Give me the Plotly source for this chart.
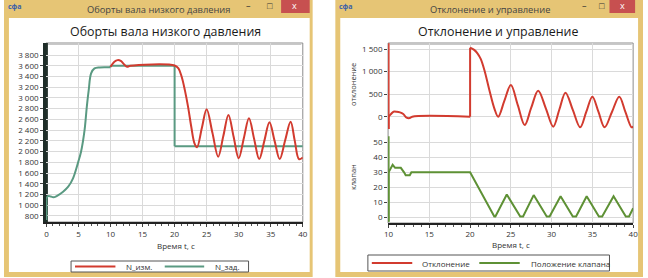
import plotly.graph_objects as go

W, H = 648, 278

# ---------------- data: left chart (Оборты вала низкого давления) ----------------
t_zad = [0, 0, 0.15, 0.5, 1.1, 1.6, 2.6, 3.4, 4.15, 4.9, 5.4, 5.95, 6.3, 6.6, 6.97, 7.5, 8.3, 10.0,
         10.0, 20.0, 20.0, 40.0]
n_zad = [725, 1100, 1165, 1170, 1148, 1172, 1253, 1346, 1502, 1781, 1997, 2401, 2835, 3146, 3457, 3550, 3569, 3570,
         3600, 3600, 2100, 2100]

t_izm = [10.0, 10.6, 11.1, 11.6, 12.1, 12.6, 13.1, 20.0, 20.6, 21.1, 21.6, 22.1, 22.6, 23.1, 23.5,
         24.25, 25.0, 25.9, 26.8, 27.6, 28.4, 29.2, 30.0, 30.8, 31.6, 32.4, 33.2, 34.0, 34.8, 35.6, 36.4,
         37.25, 38.1, 38.75, 39.4, 40.0]
n_izm = [3580, 3673, 3705, 3690, 3630, 3580, 3600, 3605, 3550, 3394, 3146, 2835, 2463, 2154, 2080,
         2440, 2790, 2350, 1905, 2290, 2680, 2280, 1875, 2250, 2620, 2240, 1860, 2200, 2545, 2200, 1860,
         2210, 2555, 2200, 1860, 1890]

# ---------------- data: right chart (Отклонение и управление) ----------------
t_otk = [10, 10, 10, 10.3, 10.6, 11.0, 11.4, 11.8, 12.2, 12.6, 12.9, 20.0,
         20.0, 20.5, 20.9, 21.3, 21.75, 22.36, 22.97, 23.45, 24.2, 25.0, 25.85, 26.7, 27.5, 28.35, 29.3,
         30.2, 30.95, 31.7, 32.6, 33.5, 34.25, 35.0, 35.75, 36.5, 37.4, 38.3, 39.05, 39.8, 40.0]
v_otk = [1630, -270, 0, 60, 110, 110, 95, 60, -20, -30, 0, 0,
         1530, 1480, 1405, 1280, 1035, 592, 186, 0, 350, 700, 257, -185, 200, 577, 180,
         -220, 160, 532, 150, -235, 105, 443, 105, -235, 105, 443, 105, -235, -220]

t_kl = [10, 10, 10, 10.25, 10.5, 10.8, 11.5, 11.9, 12.1, 12.6, 12.8, 20.0, 22.97, 23.1, 24.5, 26.15, 26.5,
        27.8, 29.4, 29.75, 31.1, 32.6, 33.0, 34.3, 35.8, 36.2, 37.6, 39.1, 39.5, 40.0]
v_kl = [54, -3, 30, 33, 35, 33, 33, 30, 28, 28, 30, 30, 0.5, 0.5, 15.2, 0.5, 0.5,
        14.8, 0.5, 0.5, 14, 0.5, 0.5, 14, 0.5, 0.5, 14, 0.5, 0.5, 6]

x_ticks_left = [0, 5, 10, 15, 20, 25, 30, 35, 40]
y_ticks_left = list(range(800, 3801, 200))
x_ticks_right = [10, 15, 20, 25, 30, 35, 40]
y_ticks_otk = [0, 500, 1000, 1500]
y_ticks_kl = [0, 10, 20, 30, 40, 50]

RED = "#D23B2F"
TEAL = "#5A9A82"
OLIVE = "#5E9135"
FRAME = "#E6C575"
GRID = "#DADADA"
FONT = "Open Sans"


def X(px):
    return px / W


def Y(py):
    return 1 - py / H


fig = go.Figure()


def add_series(t, v, color, xa, ya, shape):
    """Draw a series: smooth pieces between vertical jumps, jumps as straight segments."""
    start = 0
    pieces = []
    for i in range(1, len(t)):
        if t[i] == t[i - 1]:
            pieces.append((start, i))  # smooth piece [start, i)
            pieces.append((i - 1, i + 1))  # the vertical jump
            start = i
    pieces.append((start, len(t)))
    for a, b in pieces:
        if b - a < 2:
            continue
        fig.add_trace(go.Scatter(x=t[a:b], y=v[a:b], mode="lines", xaxis=xa, yaxis=ya,
                                 line=dict(color=color, width=2, shape=shape, smoothing=1.0),
                                 hoverinfo="skip", showlegend=False))


add_series(t_zad, n_zad, TEAL, "x", "y", "spline")
add_series(t_izm, n_izm, RED, "x", "y", "spline")
add_series(t_otk, v_otk, RED, "x2", "y2", "spline")
add_series(t_kl, v_kl, OLIVE, "x2", "y3", "linear")

tickfont = dict(family=FONT, size=8, color="#333")
common = dict(showgrid=True, gridcolor=GRID, gridwidth=1, zeroline=False, ticks="outside",
              ticklen=3, tickcolor="#444", tickfont=tickfont, fixedrange=True)

fig.update_layout(
    width=W, height=H, autosize=False, margin=dict(l=0, r=0, t=0, b=0),
    paper_bgcolor="white", plot_bgcolor="rgba(0,0,0,0)", showlegend=False,
    separators=". ", font=dict(family=FONT, size=8, color="#333"),
    xaxis=dict(domain=[X(42.5), X(303)], range=[-0.08, 40], tickvals=x_ticks_left, anchor="y",
               showline=True, linecolor="#222", linewidth=2,
               minor=dict(dtick=1, ticks="outside", ticklen=2, tickcolor="#555", showgrid=False), **common),
    yaxis=dict(domain=[Y(222), Y(43)], range=[688, 4024], tickvals=y_ticks_left, anchor="x",
               separatethousands=True, showline=True, linecolor="#1e2d28", linewidth=2.5, **common),
    xaxis2=dict(domain=[X(389.5), X(638)], range=[9.94, 40], tickvals=x_ticks_right, anchor="y3",
                showline=True, linecolor="#222", linewidth=2,
                minor=dict(dtick=1, ticks="outside", ticklen=2, tickcolor="#555", showgrid=False), **common),
    yaxis2=dict(domain=[Y(131.5), Y(43)], range=[-328, 1633], tickvals=y_ticks_otk, anchor="x2",
                separatethousands=True, showline=False, **common),
    yaxis3=dict(domain=[Y(222.7), Y(131.5)], range=[-3.6, 57.2], tickvals=y_ticks_kl, anchor="x2",
                showline=False, **common),
)

shapes = []


def rect(x0, y0, x1, y1, fill=None, line=None, lw=1, layer="below"):
    shapes.append(dict(type="rect", xref="paper", yref="paper", x0=X(x0), x1=X(x1), y0=Y(y1), y1=Y(y0),
                       fillcolor=fill if fill else "rgba(0,0,0,0)",
                       line=dict(color=line if line else "rgba(0,0,0,0)", width=lw if line else 0),
                       layer=layer))


def hline(x0, x1, y, color, lw=1, layer="above"):
    shapes.append(dict(type="line", xref="paper", yref="paper", x0=X(x0), x1=X(x1), y0=Y(y), y1=Y(y),
                       line=dict(color=color, width=lw), layer=layer))


def vline(x, y0, y1, color, lw=1, layer="below"):
    shapes.append(dict(type="line", xref="paper", yref="paper", x0=X(x), x1=X(x), y0=Y(y0), y1=Y(y1),
                       line=dict(color=color, width=lw), layer=layer))


# window frames
for (wx0, wx1, cx0, cx1) in [(0, 313, 281, 310), (336, 648, 614, 640)]:
    rect(wx0, 0, wx1, 277, fill=FRAME)
    rect(wx0 + 5, 18, wx1 - 5 if wx0 == 336 else wx1 - 3, 272, fill="white")
    rect(cx0, 0, cx1, 13, fill="#C75050")

# plot frames (below the data)
rect(42.5, 43, 303, 222, line="#8C8C8C", lw=1)
rect(389.5, 43, 638, 223, line="#8C8C8C", lw=1)
hline(44, 301.5, 44.5, "#C8C8C8", layer="below")
hline(391, 636.5, 44.5, "#C8C8C8", layer="below")
vline(43, 43, 222, "#22302B", 3)

# legends
rect(68, 261, 248, 272, line="#555", lw=1, layer="above")
hline(72, 113, 266.5, RED, 2)
hline(163, 203, 266.5, TEAL, 2)
rect(369, 255, 614, 271, line="#555", lw=1, layer="above")
hline(373, 414, 263, RED, 2)
hline(482, 523, 263, OLIVE, 2)

fig.update_layout(shapes=shapes)

ann = []


def text(px, py, s, size=8, color="#333", xanchor="center", angle=0, bold=False):
    if bold:
        s = "<b>" + s + "</b>"
    ann.append(dict(x=X(px), y=Y(py), xref="paper", yref="paper", text=s, showarrow=False,
                    xanchor=xanchor, yanchor="middle", textangle=angle,
                    font=dict(family=FONT, size=size, color=color)))


# window title bars
text(157, 9, "Оборты вала низкого давления", 9.3, "#444")
text(493, 9, "Отклонение и управление", 9.3, "#444")
text(11, 7, "сфа", 7, "#3A5FA8", bold=True)
text(347, 7, "сфа", 7, "#3A5FA8", bold=True)
for mx, bx, cx in [(248, 270, 295), (589, 606, 627)]:
    text(mx, 5, "–", 9, "#333")
    text(bx, 5, "□", 9, "#333")
    text(cx, 6, "x", 9, "white")

# chart titles
text(164, 32, "Оборты вала низкого давления", 12.4, "#1a1a1a")
text(501, 32, "Отклонение и управление", 12.4, "#1a1a1a")

# axis titles
text(174, 245, "Время t, c", 8, "#333")
text(514, 244.5, "Время t, c", 8, "#333")
text(354, 85, "отклонение", 7.5, "#333", angle=-90)
text(354, 177, "клапан", 7.5, "#333", angle=-90)

# legend texts
text(122, 266.5, "N_изм.", 8, "#333", xanchor="left")
text(212, 266.5, "N_зад.", 8, "#333", xanchor="left")
text(422, 263, "Отклонение", 8, "#333", xanchor="left")
text(532, 263, "Положение клапана", 8, "#333", xanchor="left")

fig.update_layout(annotations=ann)

fig.write_html("out.html")
